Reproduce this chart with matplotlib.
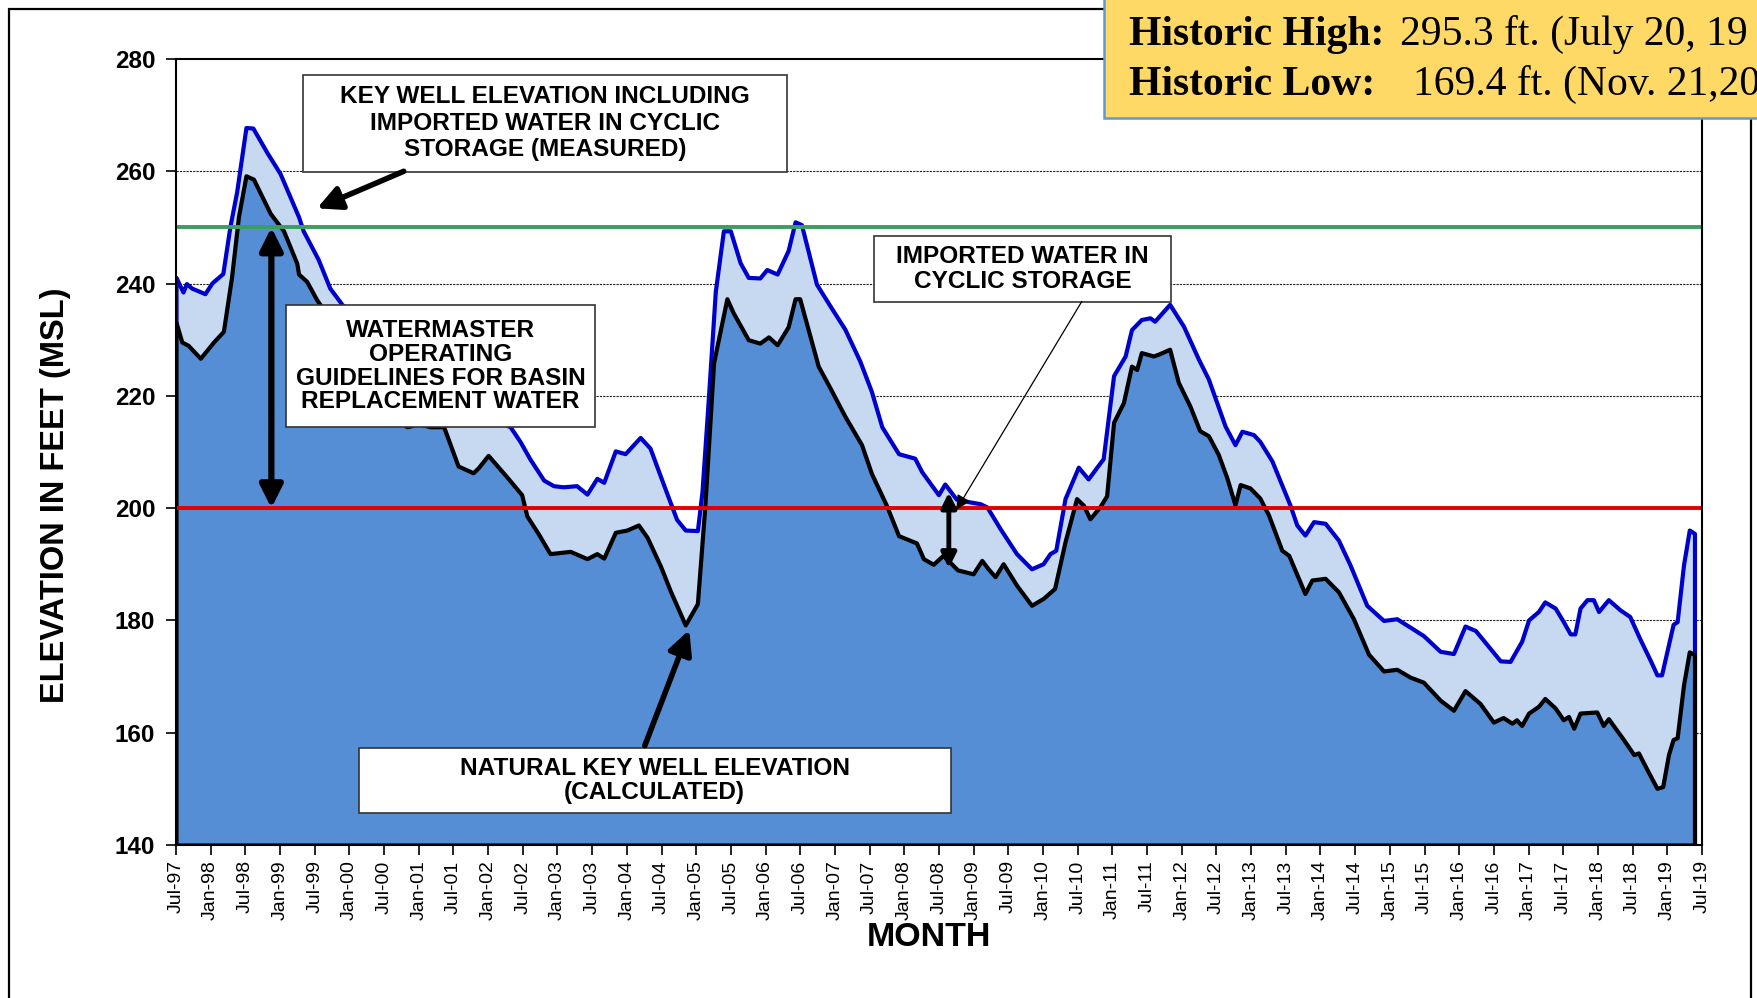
import numpy as np
import matplotlib as mpl
import matplotlib.pyplot as plt
from matplotlib.patches import Rectangle

mpl.rcParams['font.family'] = ['Liberation Sans', 'DejaVu Sans']

# month index (0 = Jul-97) and elevation
blue_m = [0.0, 1.2, 1.8, 2.7, 5.0, 6.2, 8.1, 9.3, 10.5, 12.1, 13.3, 15.7, 18.0, 21.2, 22.0, 24.6,
          26.6, 28.7, 32.0, 36.0, 40.0, 44.0, 48.0, 52.0, 55.5, 57.8, 59.5, 61.2, 63.6, 65.3, 67.0,
          69.3, 71.1, 72.8, 74.0, 76.0, 77.7, 80.3, 82.0, 84.3, 86.6, 88.1, 90.2, 91.0, 92.1, 93.3,
          94.7, 95.9, 97.6, 99.0, 101.0, 102.2, 104.0, 105.9, 107.1, 108.2, 110.8, 113.1, 115.7,
          118.3, 120.3, 122.1, 125.0, 127.8, 129.0, 131.9, 133.0, 135.0, 137.4, 139.1, 140.3, 142.6,
          145.4, 148.0, 150.0, 151.2, 152.2, 153.8, 156.1, 157.8, 159.3, 160.4, 162.2, 164.2, 165.3,
          167.0, 168.5, 169.3, 171.9, 174.3, 176.9, 178.6, 181.5, 183.2, 184.4, 186.4, 187.5, 189.6,
          192.7, 193.9, 195.3, 196.8, 198.8, 201.1, 203.1, 206.0, 208.9, 211.2, 213.5, 215.8, 218.7,
          221.0, 223.0, 224.8, 226.8, 229.1, 230.8, 232.8, 234.0, 235.7, 236.8, 238.6, 240.0, 241.2,
          242.0, 242.9, 244.1, 245.2, 246.1, 247.8, 249.8, 251.5, 253.3, 255.0, 256.2, 257.0, 258.2,
          259.0, 259.7, 260.8, 261.8, 262.7]
blue_v = [241.1, 238.5, 240.0, 239.2, 238.2, 240.1, 241.8, 250.0, 256.4, 267.8, 267.7, 263.4, 259.6,
          251.9, 249.4, 244.3, 239.2, 236.3, 233.0, 229.5, 226.5, 223.0, 220.0, 217.5, 215.5, 214.5,
          211.9, 208.8, 205.0, 204.0, 203.8, 204.0, 202.5, 205.3, 204.6, 210.2, 209.7, 212.6, 210.7,
          204.3, 198.0, 196.1, 196.0, 203.0, 219.6, 238.6, 249.4, 249.4, 243.7, 241.1, 241.0, 242.5,
          241.7, 245.9, 251.0, 250.5, 239.9, 236.1, 231.9, 226.2, 220.8, 214.5, 209.7, 208.9, 206.5,
          202.4, 204.3, 201.6, 201.1, 200.8, 200.2, 196.3, 191.9, 189.2, 190.1, 191.9, 192.5, 201.7,
          207.3, 205.2, 207.3, 208.8, 223.6, 227.1, 231.8, 233.6, 233.9, 233.3, 236.3, 232.4, 226.5,
          223.0, 214.6, 211.3, 213.7, 213.1, 211.9, 208.4, 200.6, 197.0, 195.2, 197.6, 197.3, 194.3,
          189.9, 182.7, 180.0, 180.3, 178.8, 177.3, 174.5, 174.1, 179.0, 178.2, 175.7, 172.8, 172.7,
          176.3, 180.1, 181.6, 183.3, 182.2, 179.8, 177.6, 177.6, 182.2, 183.7, 183.7, 181.6, 183.7,
          181.9, 180.7, 176.6, 173.0, 170.3, 170.3, 175.7, 179.3, 179.8, 189.9, 196.1, 195.5]

black_m = [0.0, 1.0, 2.1, 4.2, 6.5, 8.2, 9.6, 10.8, 12.1, 13.4, 16.3, 18.6, 20.9, 21.2, 22.6, 24.3,
           27.0, 30.0, 33.0, 36.0, 38.0, 40.0, 42.0, 44.0, 46.3, 48.8, 51.4, 52.3, 54.0, 57.2, 59.8,
           60.7, 62.7, 64.7, 68.2, 71.1, 72.8, 74.0, 76.0, 78.0, 80.0, 81.5, 83.8, 85.5, 88.1, 90.2,
           91.5, 93.0, 95.3, 96.4, 99.0, 101.0, 102.5, 104.0, 105.9, 107.1, 107.9, 111.1, 113.1,
           115.7, 118.6, 120.3, 122.9, 125.0, 128.1, 129.3, 131.0, 132.7, 135.2, 137.9, 139.4, 140.5,
           141.7, 143.1, 145.4, 148.0, 150.0, 152.0, 153.8, 155.8, 157.0, 158.1, 159.8, 161.0, 162.2,
           163.9, 165.3, 166.2, 167.0, 169.1, 169.9, 171.9, 173.4, 175.4, 177.1, 178.6, 180.3, 181.8,
           183.2, 184.1, 185.8, 187.5, 189.0, 191.3, 192.5, 195.3, 196.5, 198.8, 201.1, 203.7, 206.3,
           208.9, 211.2, 213.5, 215.8, 218.7, 221.0, 223.0, 225.6, 227.9, 229.6, 231.1, 231.9, 232.8,
           234.0, 235.7, 236.8, 238.6, 240.0, 240.9, 241.8, 242.9, 245.8, 246.9, 247.8, 250.4, 252.2,
           253.0, 254.5, 256.2, 257.2, 258.2, 259.0, 259.7, 260.8, 261.8, 262.7]
black_v = [233.1, 229.6, 229.0, 226.7, 229.6, 231.5, 241.1, 251.9, 259.2, 258.6, 252.5, 249.4, 243.6,
           241.7, 240.4, 237.2, 233.0, 228.5, 224.0, 219.0, 215.5, 214.5, 215.0, 214.5, 214.5, 207.5,
           206.3, 207.2, 209.4, 205.6, 202.4, 198.6, 195.4, 191.9, 192.3, 191.0, 191.9, 191.1, 195.7,
           196.1, 197.0, 194.8, 189.7, 185.3, 179.2, 183.0, 200.5, 225.9, 237.3, 234.8, 230.0, 229.4,
           230.5, 229.1, 232.3, 237.3, 237.3, 225.3, 221.5, 216.4, 211.3, 206.2, 200.5, 195.1, 193.8,
           191.0, 190.0, 191.6, 189.0, 188.3, 190.7, 189.2, 187.8, 190.1, 186.3, 182.7, 183.9, 185.7,
           194.0, 201.7, 200.5, 198.1, 200.2, 202.2, 215.3, 218.8, 225.3, 224.7, 227.7, 227.1, 227.4,
           228.3, 222.4, 218.2, 213.8, 212.9, 209.6, 205.4, 200.6, 204.2, 203.6, 201.8, 198.8, 192.5,
           191.6, 184.8, 187.2, 187.5, 185.1, 180.3, 174.0, 171.0, 171.3, 169.9, 169.0, 165.8, 164.0,
           167.5, 165.2, 161.9, 162.7, 161.7, 162.3, 161.3, 163.5, 164.7, 166.1, 164.4, 162.3, 162.9,
           160.8, 163.5, 163.7, 161.3, 162.5, 158.8, 156.1, 156.4, 153.4, 150.1, 150.4, 156.1, 158.8,
           159.1, 168.5, 174.4, 173.9]

operating_high = 250
operating_low = 200

tick_labels = []
for i in range(45):
    yr = (97 + (i + 1) // 2) % 100
    tick_labels.append(('Jul-%02d' if i % 2 == 0 else 'Jan-%02d') % yr)
tick_pos = np.arange(45) * 6

W, H = 1758, 998
fig = plt.figure(figsize=(W / 100, H / 100), dpi=100)
ax = fig.add_axes([176 / W, 1 - 845 / H, (1702 - 176) / W, (845 - 59) / H])

for yg in [160, 180, 220, 240, 260]:
    ax.axhline(yg, color='#222222', lw=0.8, ls=(0, (2, 1)), zorder=1)

ax.fill_between(blue_m, 140, blue_v, facecolor='#c6d9f1', edgecolor='#0000cc', lw=3.0, zorder=2)
ax.fill_between(black_m, 140, black_v, facecolor='#558ed5', edgecolor='black', lw=3.0, zorder=2.1)

ax.axhline(operating_high, color='#3a9d62', lw=2.8, zorder=3)
ax.axhline(operating_low, color='#e00000', lw=2.8, zorder=3)

ax.set_xlim(0, 264)
ax.set_ylim(140, 280)
ax.set_yticks(np.arange(140, 281, 20))
ax.set_xticks(tick_pos)
ax.set_xticklabels(tick_labels, rotation=90, fontsize=14)
for lab in ax.get_yticklabels():
    lab.set_fontweight('bold')
    lab.set_fontsize(17.5)
ax.tick_params(axis='both', direction='out', length=7, width=1.2)
ax.tick_params(axis='x', pad=4)
ax.tick_params(axis='y', pad=8)
for sp in ax.spines.values():
    sp.set_linewidth(1.5)
    sp.set_zorder(5)

fig.text(56 / W, 1 - 495 / H, 'ELEVATION IN FEET (MSL)', rotation=90, fontsize=23.5,
         fontweight='bold', ha='center', va='center')
fig.text(929 / W, 1 - 937 / H, 'MONTH', fontsize=24.5, fontweight='bold', ha='center', va='center')

# annotation boxes
boxes = [
    ((22.0, 259.9), (105.7, 277.2), 'KEY WELL ELEVATION INCLUDING\nIMPORTED WATER IN CYCLIC\nSTORAGE (MEASURED)', 1.2),
    ((19.0, 214.4), (72.5, 236.2), 'WATERMASTER\nOPERATING\nGUIDELINES FOR BASIN\nREPLACEMENT WATER', 1.05),
    ((120.8, 236.8), (172.1, 248.4), 'IMPORTED WATER IN\nCYCLIC STORAGE', 1.1),
    ((31.6, 145.7), (134.0, 157.3), 'NATURAL KEY WELL ELEVATION\n(CALCULATED)', 1.1),
]
for (x0, y0), (x1, y1), txt, lsp in boxes:
    ax.add_patch(Rectangle((x0, y0), x1 - x0, y1 - y0, facecolor='white', edgecolor='#333333',
                           lw=1.2, zorder=6))
    ax.text((x0 + x1) / 2, (y0 + y1) / 2, txt, ha='center', va='center', fontsize=17.6,
            fontweight='bold', linespacing=lsp, zorder=7)

thick = dict(arrowstyle='-|>', color='black', lw=4, mutation_scale=36, shrinkA=0, shrinkB=0)
ax.annotate('', xy=(24.4, 253.4), xytext=(39.4, 260.0), arrowprops=thick, zorder=7)
ax.annotate('', xy=(88.8, 178.3), xytext=(81.1, 157.7), arrowprops=thick, zorder=7)
dbl = dict(arrowstyle='<|-|>', color='black', lw=4.5, mutation_scale=34, shrinkA=0, shrinkB=0)
ax.annotate('', xy=(16.5, 250), xytext=(16.5, 200), arrowprops=dbl, zorder=7)
dbl2 = dict(arrowstyle='<|-|>', color='black', lw=3.5, mutation_scale=22, shrinkA=0, shrinkB=0)
ax.annotate('', xy=(133.7, 202.8), xytext=(133.7, 189.3), arrowprops=dbl2, zorder=7)
ax.annotate('', xy=(135.0, 199.7), xytext=(156.7, 236.8),
            arrowprops=dict(arrowstyle='-|>', color='black', lw=0.9, mutation_scale=22,
                            shrinkA=0, shrinkB=0), zorder=7)

# page frame and historic box
fig.add_artist(Rectangle((9 / W, -0.1), (1751 - 9) / W, 1.1 - 9 / H, transform=fig.transFigure,
                         fill=False, edgecolor='black', lw=1.6, zorder=0))
fig.add_artist(Rectangle((1104 / W, 1 - 118 / H), 0.5, 0.3, transform=fig.transFigure,
                         facecolor='#ffd966', edgecolor='#5b9bd5', lw=1.8, zorder=10))
serif = ['Liberation Serif', 'DejaVu Serif']
fig.text(1129 / W, 1 - 45 / H, 'Historic High:', family=serif, fontsize=30, fontweight='bold',
         va='baseline', zorder=11)
fig.text(1400 / W, 1 - 45 / H, '295.3 ft. (July 20, 19', family=serif, fontsize=30,
         va='baseline', zorder=11)
fig.text(1129 / W, 1 - 95 / H, 'Historic Low:', family=serif, fontsize=30, fontweight='bold',
         va='baseline', zorder=11)
fig.text(1413 / W, 1 - 95 / H, '169.4 ft. (Nov. 21,20', family=serif, fontsize=30,
         va='baseline', zorder=11)

fig.savefig('out.png', dpi=100)
